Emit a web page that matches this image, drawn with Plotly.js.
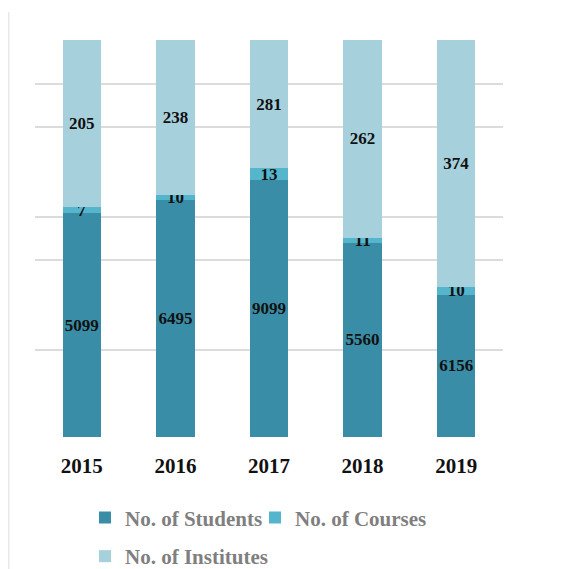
<!DOCTYPE html>
<html>
<head>
<meta charset="utf-8">
<script src="https://cdn.plot.ly/plotly-3.0.1.min.js"></script>
<style>html,body{margin:0;padding:0;background:#fff;}#chart{width:572px;height:569px;}</style>
</head>
<body>
<div id="chart"></div>
<script>
// Categories
const years = ['2015', '2016', '2017', '2018', '2019'];
// Displayed values (data labels)
const students = [5099, 6495, 9099, 5560, 6156];
const courses = [7, 10, 13, 11, 10];
const institutes = [205, 238, 281, 262, 374];
// Segment shares (% of bar height)
const studentsShare = [56.4, 59.7, 64.7, 48.9, 35.8];
const coursesShare = [1.5, 1.3, 3.0, 1.3, 2.0];
const institutesShare = [42.1, 39.0, 32.3, 49.8, 62.2];
// Gridline positions (% of height)
const gridVals = [21.9, 44.6, 55.4, 78.1, 88.9];

const labelFont = {family: 'Liberation Serif, Times New Roman, serif', size: 17, color: '#111111', weight: 'bold'};

function trace(name, share, labels, color, legend) {
  return {
    type: 'bar', name: name, x: years, y: share,
    text: labels.map(String), textposition: 'inside', insidetextanchor: 'middle',
    constraintext: 'none', textangle: 0, cliponaxis: false,
    textfont: labelFont, marker: {color: color, line: {width: 0}},
    hoverinfo: 'skip', legend: legend
  };
}

const data = [
  trace('No. of Students', studentsShare, students, '#3a8da6', 'legend'),
  trace('No. of Courses', coursesShare, courses, '#55b5cd', 'legend3'),
  trace('No. of Institutes', institutesShare, institutes, '#a7d0dd', 'legend2')
];

const legendFont = {family: 'Liberation Serif, Times New Roman, serif', size: 21, color: '#7f7f7f', weight: 'bold'};

function leg(x, y) {
  return {
    orientation: 'h', xref: 'container', yref: 'container',
    x: x, xanchor: 'left', y: y, yanchor: 'top',
    font: legendFont, bgcolor: 'rgba(0,0,0,0)'
  };
}

const layout = {
  width: 572, height: 569,
  margin: {l: 35, r: 69, t: 40, b: 132},
  paper_bgcolor: '#ffffff', plot_bgcolor: '#ffffff',
  barmode: 'stack', bargap: 0.59,
  showlegend: true,
  xaxis: {
    type: 'category', showgrid: false, zeroline: false, showline: false, ticks: '',
    tickfont: {family: 'Liberation Serif, Times New Roman, serif', size: 21, color: '#111111', weight: 'bold'},
    ticklabelstandoff: 14
  },
  yaxis: {
    range: [0, 100], tickmode: 'array', tickvals: gridVals, showticklabels: false,
    showgrid: true, gridcolor: '#dcdcdc', gridwidth: 1.5, zeroline: false, showline: false, ticks: ''
  },
  legend: leg(0.1486, 0.126),
  legend3: leg(0.4458, 0.126),
  legend2: leg(0.1486, 0.058),
  shapes: [
    {type: 'line', xref: 'paper', yref: 'paper', x0: -0.056, x1: -0.056, y0: -0.34, y1: 1.07,
     line: {color: '#e8e8e8', width: 1.5}}
  ]
};

Plotly.newPlot('chart', data, layout, {displayModeBar: false, staticPlot: true});
</script>
</body>
</html>
